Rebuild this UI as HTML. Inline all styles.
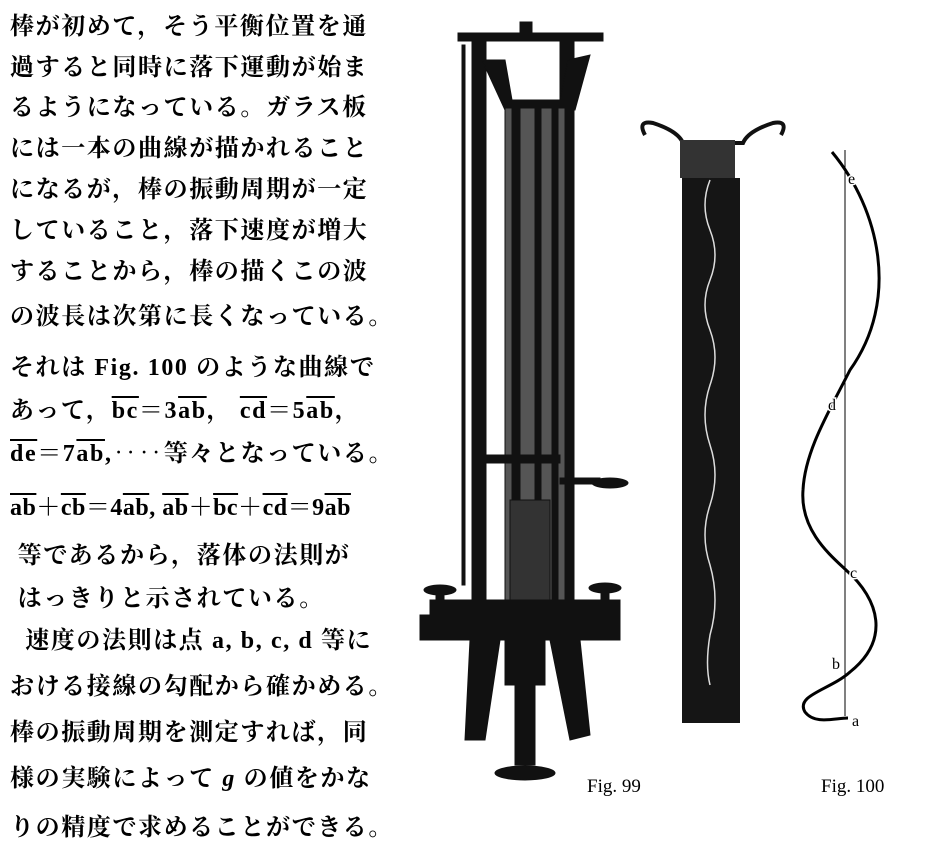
<!DOCTYPE html>
<html><head><meta charset="utf-8"><style>
body{margin:0;background:#fff;width:939px;height:853px;overflow:hidden;position:relative;font-family:"Liberation Serif","Noto Serif CJK SC","Noto Sans CJK JP",serif;color:#000}
.l{position:absolute;left:10px;font-size:24px;white-space:nowrap;line-height:1;letter-spacing:1.6px;font-weight:bold}
.o{text-decoration:overline}
.cap{position:absolute;font-size:19px;font-family:"Liberation Serif",serif}
</style></head><body>
<div class="l" style="top:15px">棒が初めて，そう平衡位置を通</div>
<div class="l" style="top:56px">過すると同時に落下運動が始ま</div>
<div class="l" style="top:96px">るようになっている。ガラス板</div>
<div class="l" style="top:137px">には一本の曲線が描かれること</div>
<div class="l" style="top:178px">になるが，棒の振動周期が一定</div>
<div class="l" style="top:219px">していること，落下速度が増大</div>
<div class="l" style="top:260px">することから，棒の描くこの波</div>
<div class="l" style="top:305px">の波長は次第に長くなっている。</div>
<div class="l" style="top:356px">それは Fig. 100 のような曲線で</div>
<div class="l" style="top:399px">あって，<span class="o">bc</span>＝3<span class="o">ab</span>，&nbsp;<span class="o">cd</span>＝5<span class="o">ab</span>，</div>
<div class="l" style="top:442px"><span class="o">de</span>＝7<span class="o">ab</span>,‥‥等々となっている。</div>
<div class="l" style="top:496px;letter-spacing:0.5px"><span class="o">ab</span>＋<span class="o">cb</span>＝4<span class="o">ab</span>,&nbsp;<span class="o">ab</span>＋<span class="o">bc</span>＋<span class="o">cd</span>＝9<span class="o">ab</span></div>
<div class="l" style="top:544px">&nbsp;等であるから，落体の法則が</div>
<div class="l" style="top:587px">&nbsp;はっきりと示されている。</div>
<div class="l" style="top:629px">&nbsp;&nbsp;速度の法則は点 a, b, c, d 等に</div>
<div class="l" style="top:675px">おける接線の勾配から確かめる。</div>
<div class="l" style="top:721px">棒の振動周期を測定すれば，同</div>
<div class="l" style="top:767px">様の実験によって <i>g</i> の値をかな</div>
<div class="l" style="top:816px">りの精度で求めることができる。</div>

<svg width="939" height="853" style="position:absolute;left:0;top:0">
<g fill="#111" stroke="#111">
<rect x="458" y="33" width="145" height="8"/>
<rect x="520" y="22" width="12" height="12"/>
<rect x="462" y="45" width="3" height="540" />
<rect x="472" y="40" width="14" height="575"/>
<rect x="560" y="40" width="14" height="580"/>
<path d="M482 60 L505 60 L512 100 L560 100 L568 60 L590 55 L575 110 L505 110 Z"/>
<rect x="505" y="108" width="60" height="510" fill="#555"/>
<rect x="512" y="108" width="8" height="510"/>
<rect x="535" y="108" width="6" height="510"/>
<rect x="552" y="108" width="6" height="510"/>
<rect x="480" y="455" width="80" height="8"/>
<rect x="560" y="478" width="40" height="6"/>
<ellipse cx="610" cy="483" rx="18" ry="5"/>
<rect x="510" y="500" width="40" height="120" fill="#333"/>
<rect x="430" y="600" width="190" height="20"/>
<rect x="420" y="615" width="200" height="25"/>
<ellipse cx="440" cy="590" rx="16" ry="5"/>
<ellipse cx="605" cy="588" rx="16" ry="5"/>
<rect x="436" y="592" width="8" height="25"/>
<rect x="601" y="592" width="8" height="25"/>
<path d="M470 640 L500 640 L485 740 L465 740 Z"/>
<path d="M550 640 L580 640 L590 735 L570 740 Z"/>
<rect x="505" y="640" width="40" height="45"/>
<rect x="515" y="685" width="20" height="80"/>
<ellipse cx="525" cy="773" rx="30" ry="7"/>
</g>
<path d="M645 135 q-8 -15 8 -12 q25 8 30 20 h60 q5 -12 30 -20 q16 -3 8 12" fill="none" stroke="#111" stroke-width="4"/>
<rect x="680" y="140" width="55" height="38" fill="#333"/>
<rect x="682" y="178" width="58" height="545" fill="#151515"/>
<path d="M710 180 q-10 25 0 50 q10 25 0 50 q-10 25 0 50 q10 27 0 55 q-10 30 0 60 q10 30 0 60 q-10 30 0 60 q10 35 0 70 q-5 30 0 50" fill="none" stroke="#ddd" stroke-width="1.5"/>
<line x1="845" y1="150" x2="845" y2="716" stroke="#000" stroke-width="1"/>
<path d="M832 152 C880 210 900 300 850 370 C830 410 805 450 803 490 C800 530 830 555 846 570 C880 600 890 640 850 672 C830 690 795 695 805 712 C815 725 835 718 848 718" fill="none" stroke="#000" stroke-width="3"/>
<g font-family="Liberation Serif,serif" font-size="16" stroke="#fff" stroke-width="3" paint-order="stroke" fill="#000">
<text x="848" y="184">e</text>
<text x="828" y="410">d</text>
<text x="850" y="578">c</text>
<text x="832" y="669">b</text>
<text x="852" y="726">a</text>
</g>
</svg>
<div class="cap" style="left:587px;top:776px">Fig. 99</div>
<div class="cap" style="left:821px;top:776px">Fig. 100</div>
</body></html>
